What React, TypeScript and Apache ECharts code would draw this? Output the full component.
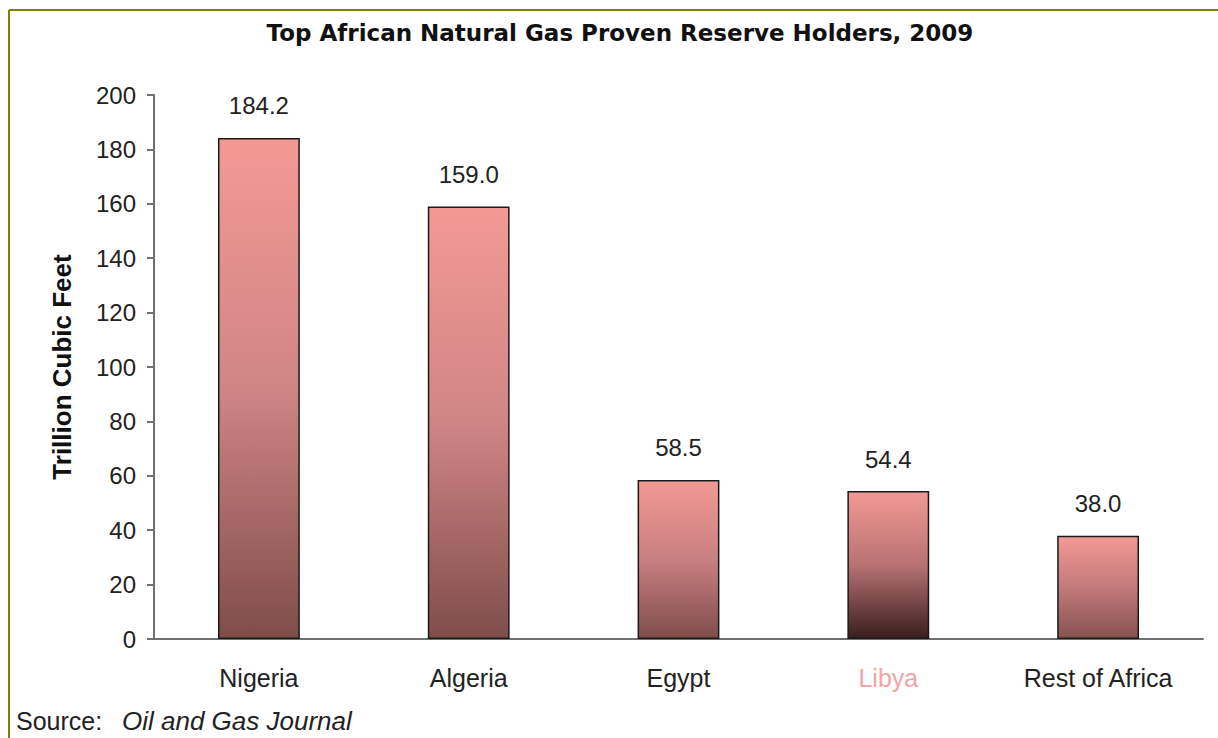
import React, { useEffect, useRef } from "react";
import * as echarts from "echarts";

const categories = ["Nigeria", "Algeria", "Egypt", "Libya", "Rest of Africa"];
const values = [184.2, 159.0, 58.5, 54.4, 38.0];
const midColors = ["#D08585", "#D08585", "#C98080", "#B87272", "#C27A7A"];
const bottomColors = ["#7E4D4A", "#7E4D4A", "#7E4D4A", "#3A1E1E", "#855250"];
const yTicks = { min: 0, max: 200, interval: 20 };
const titleText = "Top African Natural Gas Proven Reserve Holders, 2009";
const yAxisName = "Trillion Cubic Feet";
const sourceLabel = "Source:";
const sourceName = "Oil and Gas Journal";

export default function App() {
  const ref = useRef<HTMLDivElement>(null);
  useEffect(() => {
    const chart = echarts.init(ref.current!, null, { renderer: "svg" });
    chart.setOption({
      animation: false,
      backgroundColor: "#ffffff",
      grid: { left: 154, right: 15, top: 95, bottom: 99 },
      graphic: [
        {
          type: "line",
          shape: { x1: 9, y1: 10, x2: 1218, y2: 10 },
          style: { stroke: "#808000", lineWidth: 2 },
        },
        {
          type: "line",
          shape: { x1: 9, y1: 10, x2: 9, y2: 738 },
          style: { stroke: "#808000", lineWidth: 2 },
        },
        {
          type: "text",
          x: 620,
          y: 33,
          style: {
            text: titleText,
            fill: "#111",
            font: "bold 23px 'DejaVu Sans'",
            align: "center",
            verticalAlign: "middle",
          },
        },
        {
          type: "text",
          x: 16,
          y: 721,
          style: {
            text: sourceLabel,
            fill: "#222",
            font: "25px 'Liberation Sans'",
            verticalAlign: "middle",
          },
        },
        {
          type: "text",
          x: 122,
          y: 721,
          style: {
            text: sourceName,
            fill: "#222",
            font: "italic 26px 'Liberation Sans'",
            verticalAlign: "middle",
          },
        },
      ],
      xAxis: {
        type: "category",
        data: categories.map((c) =>
          c === "Libya" ? { value: c, textStyle: { color: "#F4A3A3" } } : c
        ),
        axisLine: { lineStyle: { color: "#707070", width: 2 } },
        axisTick: { show: false },
        axisLabel: {
          color: "#222",
          fontSize: 25,
          fontFamily: "Liberation Sans",
          margin: 26,
        },
      },
      yAxis: {
        type: "value",
        min: yTicks.min,
        max: yTicks.max,
        interval: yTicks.interval,
        name: yAxisName,
        nameLocation: "middle",
        nameRotate: 90,
        nameGap: 79,
        nameTextStyle: {
          color: "#111",
          fontSize: 26,
          fontWeight: "bold",
          fontFamily: "Liberation Sans",
        },
        axisLine: { show: true, lineStyle: { color: "#707070", width: 2 } },
        axisTick: { show: true, length: 7, lineStyle: { color: "#707070", width: 2 } },
        splitLine: { show: false },
        axisLabel: {
          color: "#222",
          fontSize: 24,
          fontFamily: "Liberation Sans",
          margin: 18,
        },
      },
      series: [
        {
          type: "bar",
          barWidth: "39%",
          data: values.map((v, i) => ({
            value: v,
            itemStyle: {
              color: new echarts.graphic.LinearGradient(0, 0, 0, 1, [
                { offset: 0, color: "#F39994" },
                { offset: 0.5, color: midColors[i] },
                { offset: 1, color: bottomColors[i] },
              ]),
              borderColor: "#1a1a1a",
              borderWidth: 1.5,
            },
          })),
          label: {
            show: true,
            position: "top",
            distance: 20,
            color: "#222",
            fontSize: 24,
            fontFamily: "Liberation Sans",
            formatter: (p: any) => Number(p.value).toFixed(1),
          },
        },
      ],
    });
    return () => chart.dispose();
  }, []);
  return (
    <div
      ref={ref}
      style={{ position: "fixed", left: 0, top: 0, width: 1218, height: 738 }}
    />
  );
}
